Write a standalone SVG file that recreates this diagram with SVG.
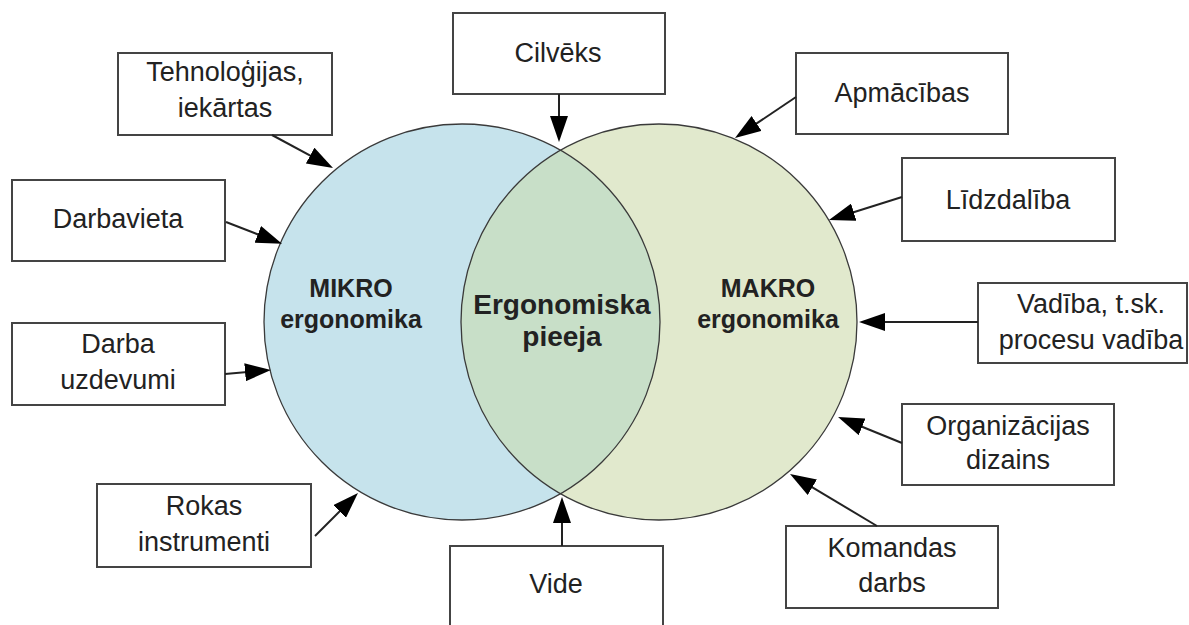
<svg xmlns="http://www.w3.org/2000/svg" width="1189" height="625" viewBox="0 0 1189 625">
  <style>
    .box rect { fill: #ffffff; stroke: #444444; stroke-width: 2; }
    .box text, .label { font-family: "Liberation Sans", Arial, sans-serif; font-size: 27px; fill: #222222; text-anchor: middle; }
    .label { font-weight: bold; font-size: 25px; }
    .label.big { font-size: 28px; }
    .ring { fill: none; stroke: #3a3a3a; stroke-width: 1.3; }
    #connectors line { stroke: #222222; stroke-width: 2; marker-end: url(#arrow); }
  </style>
  <defs>
    <marker id="arrow" viewBox="0 0 26 18" refX="16" refY="9" markerWidth="26" markerHeight="18" markerUnits="userSpaceOnUse" orient="auto">
      <path d="M0,0 L26,9 L0,18 z" fill="#000000"/>
    </marker>
  </defs>

  <rect x="0" y="0" width="1189" height="625" fill="#ffffff"/>

  <!-- Two overlapping circles -->
  <g id="mikro">
    <circle cx="462" cy="322" r="198" fill="#c6e3ec"/>
  </g>
  <g id="makro">
    <circle cx="659" cy="322" r="198" fill="#e1e9cd"/>
  </g>
  <g id="pieeja">
    <path d="M560.5,150.2 A198,198 0 0 1 560.5,493.8 A198,198 0 0 1 560.5,150.2 z" fill="#c8dfc8"/>
  </g>
  <circle class="ring" cx="462" cy="322" r="198"/>
  <circle class="ring" cx="659" cy="322" r="198"/>

  <text class="label" x="351" y="297">MIKRO</text>
  <text class="label" x="351" y="328">ergonomika</text>
  <text class="label big" x="562" y="314">Ergonomiska</text>
  <text class="label big" x="562" y="346">pieeja</text>
  <text class="label" x="768" y="297">MAKRO</text>
  <text class="label" x="768" y="328">ergonomika</text>

  <!-- Factor boxes -->
  <g id="tehnologijas" class="box">
    <rect x="118" y="53" width="214" height="82"/>
    <text x="225" y="81">Tehnoloģijas,</text>
    <text x="225" y="117">iekārtas</text>
  </g>
  <g id="cilveks" class="box">
    <rect x="453" y="13" width="212" height="81"/>
    <text x="558" y="62">Cilvēks</text>
  </g>
  <g id="apmacibas" class="box">
    <rect x="796" y="53" width="212" height="81"/>
    <text x="902" y="102">Apmācības</text>
  </g>
  <g id="lidzdaliba" class="box">
    <rect x="902" y="158" width="213" height="83"/>
    <text x="1008" y="209">Līdzdalība</text>
  </g>
  <g id="darbavieta" class="box">
    <rect x="12" y="180" width="213" height="81"/>
    <text x="118" y="228">Darbavieta</text>
  </g>
  <g id="darba-uzdevumi" class="box">
    <rect x="12" y="323" width="213" height="82"/>
    <text x="118" y="353">Darba</text>
    <text x="118" y="389">uzdevumi</text>
  </g>
  <g id="rokas-instrumenti" class="box">
    <rect x="97" y="484" width="214" height="83"/>
    <text x="204" y="515">Rokas</text>
    <text x="204" y="551">instrumenti</text>
  </g>
  <g id="vide" class="box">
    <rect x="450" y="546" width="213" height="80"/>
    <text x="556" y="593">Vide</text>
  </g>
  <g id="vadiba" class="box">
    <rect x="978" y="283" width="209" height="80"/>
    <text x="1091" y="313">Vadība, t.sk.</text>
    <text x="1091" y="349">procesu vadība</text>
  </g>
  <g id="organizacijas-dizains" class="box">
    <rect x="902" y="404" width="212" height="81"/>
    <text x="1008" y="435">Organizācijas</text>
    <text x="1008" y="469">dizains</text>
  </g>
  <g id="komandas-darbs" class="box">
    <rect x="786" y="526" width="212" height="82"/>
    <text x="892" y="557">Komandas</text>
    <text x="892" y="592">darbs</text>
  </g>

  <!-- Arrows from each factor towards the circles -->
  <g id="connectors">
    <line x1="272" y1="135" x2="324.2" y2="163.2"/>
    <line x1="559" y1="94" x2="559" y2="132"/>
    <line x1="796" y1="97" x2="743.3" y2="132.4"/>
    <line x1="902" y1="197" x2="838.5" y2="217"/>
    <line x1="226" y1="222" x2="272.7" y2="240.2"/>
    <line x1="225" y1="374" x2="261" y2="370.9"/>
    <line x1="315" y1="536" x2="350.9" y2="500.1"/>
    <line x1="562" y1="546" x2="562" y2="507"/>
    <line x1="978" y1="322" x2="869" y2="322"/>
    <line x1="902" y1="443" x2="847.3" y2="420.8"/>
    <line x1="877" y1="526" x2="798.6" y2="479.1"/>
  </g>
</svg>
